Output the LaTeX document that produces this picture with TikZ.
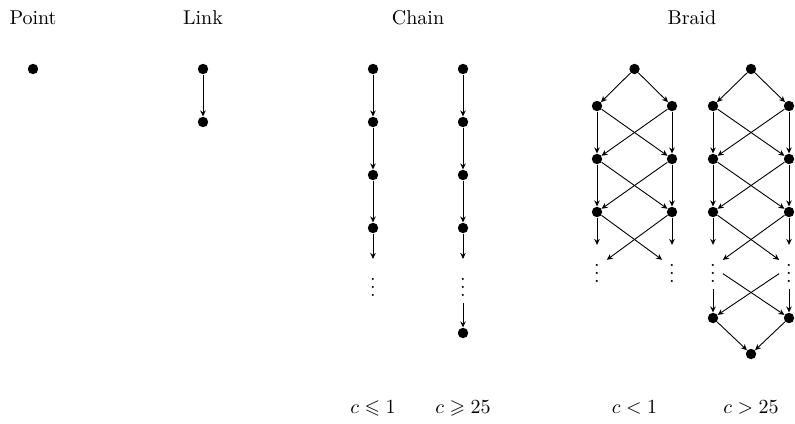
\documentclass[tikz,border=0pt]{standalone}
\usepackage{amssymb}
\usetikzlibrary{arrows.meta}
\begin{document}
\begin{tikzpicture}[x=0.5pt,y=-0.5pt,
  vtx/.style={circle,fill=black,inner sep=0pt,minimum size=5.2pt},
  dts/.style={inner sep=0.3333em},
  lbl/.style={anchor=base},
  arr/.style={-{Stealth[length=3pt,width=2.8pt,inset=1pt]},line width=0.45pt}]
\useasboundingbox (0,0) rectangle (795,423);
% titles
\node[lbl] (tP) at (33,25) {Point};
\node[lbl] (tL) at (203,25) {Link};
\node[lbl] (tC) at (418,25) {Chain};
\node[lbl] (tB) at (692,25) {Braid};
% point
\node[vtx] (p) at (33,69) {};
% link
\node[vtx] (l1) at (203,69) {};
\node[vtx] (l2) at (203,122) {};
\draw[arr] (l1) -- (l2);
% chain left
\node[vtx] (a1) at (373,69) {};
\node[vtx] (a2) at (373,122) {};
\node[vtx] (a3) at (373,175) {};
\node[vtx] (a4) at (373,228) {};
\node[dts] (ad) at (373,281) {$\vdots$};
\draw[arr] (a1) -- (a2);
\draw[arr] (a2) -- (a3);
\draw[arr] (a3) -- (a4);
\draw[arr] (a4) -- (ad);
% chain right
\node[vtx] (b1) at (463,69) {};
\node[vtx] (b2) at (463,122) {};
\node[vtx] (b3) at (463,175) {};
\node[vtx] (b4) at (463,228) {};
\node[dts] (bd) at (463,281) {$\vdots$};
\node[vtx] (b5) at (463,333) {};
\draw[arr] (b1) -- (b2);
\draw[arr] (b2) -- (b3);
\draw[arr] (b3) -- (b4);
\draw[arr] (b4) -- (bd);
\draw[arr] (bd) -- (b5);
% braid left
\node[vtx] (c0) at (634.5,69) {};
\node[vtx] (cl1) at (597,106) {};
\node[vtx] (cr1) at (672,106) {};
\node[vtx] (cl2) at (597,159) {};
\node[vtx] (cr2) at (672,159) {};
\node[vtx] (cl3) at (597,212) {};
\node[vtx] (cr3) at (672,212) {};
\node[dts] (cld) at (597,267) {$\vdots$};
\node[dts] (crd) at (672,267) {$\vdots$};
\draw[arr] (c0) -- (cl1);
\draw[arr] (c0) -- (cr1);
\foreach \i/\j in {1/2,2/3}{
  \draw[arr] (cl\i) -- (cl\j);
  \draw[arr] (cl\i) -- (cr\j);
  \draw[arr] (cr\i) -- (cl\j);
  \draw[arr] (cr\i) -- (cr\j);
}
\draw[arr] (cl3) -- (cld);
\draw[arr] (cl3) -- (crd);
\draw[arr] (cr3) -- (cld);
\draw[arr] (cr3) -- (crd);
% braid right
\node[vtx] (d0) at (751,69) {};
\node[vtx] (dl1) at (713,106) {};
\node[vtx] (dr1) at (789,106) {};
\node[vtx] (dl2) at (713,159) {};
\node[vtx] (dr2) at (789,159) {};
\node[vtx] (dl3) at (713,212) {};
\node[vtx] (dr3) at (789,212) {};
\node[dts] (dld) at (713,267) {$\vdots$};
\node[dts] (drd) at (789,267) {$\vdots$};
\node[vtx] (dl4) at (713,318) {};
\node[vtx] (dr4) at (789,318) {};
\node[vtx] (dz) at (751,354) {};
\draw[arr] (d0) -- (dl1);
\draw[arr] (d0) -- (dr1);
\foreach \i/\j in {1/2,2/3}{
  \draw[arr] (dl\i) -- (dl\j);
  \draw[arr] (dl\i) -- (dr\j);
  \draw[arr] (dr\i) -- (dl\j);
  \draw[arr] (dr\i) -- (dr\j);
}
\draw[arr] (dl3) -- (dld);
\draw[arr] (dl3) -- (drd);
\draw[arr] (dr3) -- (dld);
\draw[arr] (dr3) -- (drd);
\draw[arr] (dld) -- (dl4);
\draw[arr] (dld) -- (dr4);
\draw[arr] (drd) -- (dl4);
\draw[arr] (drd) -- (dr4);
\draw[arr] (dl4) -- (dz);
\draw[arr] (dr4) -- (dz);
% bottom labels
\node[lbl] (la) at (373,413) {$c\leqslant 1$};
\node[lbl] (lb) at (463,413) {$c\geqslant 25$};
\node[lbl] (lc) at (634.5,413) {$c<1$};
\node[lbl] (ld) at (751,413) {$c>25$};
\end{tikzpicture}
\end{document}
